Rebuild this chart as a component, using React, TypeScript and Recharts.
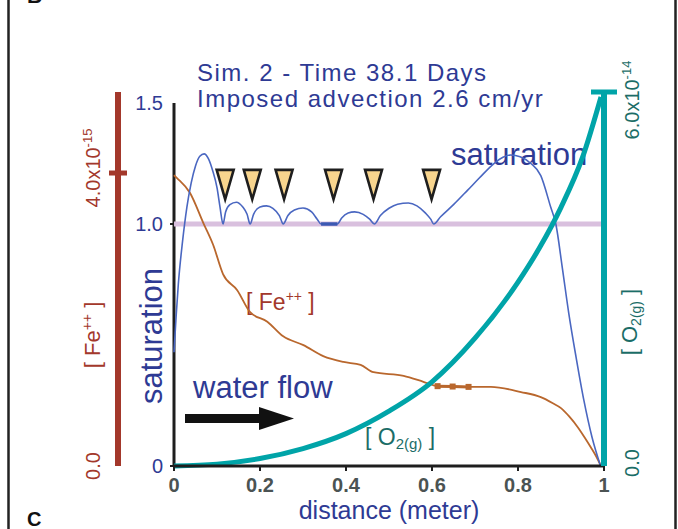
import React from 'react';
import {
  ComposedChart,
  Line,
  Scatter,
  XAxis,
  YAxis,
  ReferenceLine,
} from 'recharts';

// distance (m) vs saturation
const satX = [0, 0.005, 0.01, 0.02, 0.03, 0.04, 0.05, 0.06, 0.07, 0.08, 0.09, 0.1, 0.107, 0.114, 0.12, 0.13, 0.145, 0.16, 0.17, 0.177, 0.185, 0.2, 0.215, 0.23, 0.245, 0.254, 0.265, 0.28, 0.3, 0.32, 0.333, 0.342, 0.38, 0.39, 0.405, 0.42, 0.44, 0.455, 0.466, 0.48, 0.5, 0.52, 0.545, 0.565, 0.585, 0.597, 0.604, 0.62, 0.65, 0.683, 0.71, 0.744, 0.765, 0.783, 0.805, 0.83, 0.853, 0.876, 0.888, 0.903, 0.918, 0.935, 0.953, 0.972, 0.992];
const satY = [0.47, 0.62, 0.75, 0.93, 1.07, 1.17, 1.24, 1.28, 1.29, 1.27, 1.22, 1.15, 1.07, 1.0, 1.05, 1.08, 1.09, 1.07, 1.04, 1.0, 1.04, 1.07, 1.075, 1.065, 1.035, 1.0, 1.035, 1.058, 1.066, 1.05, 1.02, 1.0, 1.0, 1.025, 1.045, 1.05, 1.04, 1.02, 1.0, 1.035, 1.065, 1.082, 1.087, 1.075, 1.045, 1.02, 1.0, 1.03, 1.08, 1.14, 1.19, 1.25, 1.276, 1.285, 1.278, 1.25, 1.2, 1.07, 1.0, 0.82, 0.632, 0.45, 0.273, 0.12, 0.0];

// flat stretch sitting on saturation = 1
const satFlatX = [0.342, 0.38];
const satFlatY = [1.0, 1.0];

// saturation threshold
const thresholdX = [0, 1];
const thresholdY = [1.0, 1.0];

// [Fe++] in units of 1e-15
const feX = [0, 0.007, 0.037, 0.068, 0.091, 0.114, 0.147, 0.177, 0.217, 0.254, 0.301, 0.347, 0.394, 0.434, 0.464, 0.534, 0.58, 0.613, 0.65, 0.7, 0.737, 0.807, 0.853, 0.88, 0.9, 0.92, 0.939, 0.955, 0.97, 0.982, 0.993];
const feY = [3.97, 3.93, 3.73, 3.32, 3.02, 2.62, 2.4, 2.1, 1.97, 1.77, 1.65, 1.5, 1.42, 1.38, 1.28, 1.23, 1.15, 1.09, 1.085, 1.08, 1.08, 1.01, 0.94, 0.86, 0.79, 0.67, 0.53, 0.39, 0.25, 0.13, 0];

// square markers on the Fe curve
const feMarkX = [0.613, 0.648, 0.685];
const feMarkY = [1.09, 1.085, 1.08];

// [O2(g)] in units of 1e-14
const o2X = [0, 0.1, 0.2, 0.3, 0.4, 0.5, 0.6, 0.7, 0.8, 0.85, 0.9, 0.95, 0.993];
const o2Y = [0, 0.03, 0.12, 0.28, 0.52, 0.88, 1.35, 2.05, 2.95, 3.5, 4.15, 4.95, 5.92];

// triangle markers
const markerX = [0.119, 0.182, 0.256, 0.371, 0.464, 0.599];
const markerY = [1.23, 1.23, 1.23, 1.23, 1.23, 1.23];

const xTicks = [0, 0.2, 0.4, 0.6, 0.8, 1];
const satTicks = [0, 1, 1.5];
const feTicks = [0, 4];
const o2Ticks = [0, 6];

const SAT_MAX = 1.5455;
const FE_MAX = 5.106;
const O2_MAX = 6;

// axis ids; the one sorted first sits next to the plot
const SAT = 'a-sat';
const FE = 'b-fe';
const O2 = 'c-o2';

const FONT = '"Liberation Sans", Arial, Helvetica, sans-serif';
const BLUE_TEXT = '#2e3a94';
const FE_RED = '#a3382b';
const FE_LINE = '#b9672d';
const SAT_LINE = '#4a67c1';
const TEAL = '#00a4a8';
const TEAL_TEXT = '#1b6d67';
const PINK = '#d9c0de';

const toPoints = (xs: number[], ys: number[]) => xs.map((x, i) => ({ x, y: ys[i] }));

const satData = toPoints(satX, satY);
const satFlatData = toPoints(satFlatX, satFlatY);
const thresholdData = toPoints(thresholdX, thresholdY);
const feData = toPoints(feX, feY);
const feMarkData = toPoints(feMarkX, feMarkY);
const o2Data = toPoints(o2X, o2Y);
const markerData = toPoints(markerX, markerY);

const Triangle = (props: any) => {
  const { cx, cy } = props;
  return (
    <polygon
      points={`${cx - 8.5},${cy + 1.5} ${cx + 8.5},${cy + 1.5} ${cx},${cy + 31}`}
      fill="#f8d58e"
      stroke="#1e1e1e"
      strokeWidth={2.6}
    />
  );
};

const SquareDot = (props: any) => {
  const { cx, cy } = props;
  return <rect x={cx - 3} y={cy - 3} width={6} height={6} fill={FE_LINE} />;
};

// saturation ticks: small mark only below the top value
const SatTick = (props: any) => {
  const { x, y, payload } = props;
  const v = payload.value;
  return (
    <g>
      {v < 1.5 && <line x1={x + 7} x2={x + 11} y1={y} y2={y} stroke="#1e1e1e" strokeWidth={2} />}
      <text x={x} y={y} dy={7} textAnchor="end" fontSize={20} fill={BLUE_TEXT} fontFamily={FONT}>
        {v === 0 ? '0' : v.toFixed(1)}
      </text>
    </g>
  );
};

const FeTick = (props: any) => {
  const { x, y, payload } = props;
  const v = payload.value;
  return (
    <g>
      {v > 0 && <rect x={x - 9} y={y - 2.5} width={18} height={5} fill={FE_RED} />}
      <text
        transform={`translate(${x - 18},${v > 0 ? y - 5 : y}) rotate(-90)`}
        textAnchor="middle"
        fontSize={20}
        fill={FE_RED}
        fontFamily={FONT}
      >
        {v === 0 ? '0.0' : (
          <>
            {v.toFixed(1)}x10<tspan dy={-8} fontSize={13}>-15</tspan>
          </>
        )}
      </text>
    </g>
  );
};

const O2Tick = (props: any) => {
  const { x, y, payload } = props;
  const v = payload.value;
  return (
    <g>
      {v > 0 && <rect x={x - 13} y={y - 2.5} width={26} height={5} fill={TEAL} />}
      <text
        transform={`translate(${x + 35},${v > 0 ? y + 8 : y - 3}) rotate(-90)`}
        textAnchor="middle"
        fontSize={20}
        fill={TEAL_TEXT}
        fontFamily={FONT}
      >
        {v === 0 ? '0.0' : (
          <>
            {v.toFixed(1)}x10<tspan dy={-8} fontSize={13}>-14</tspan>
          </>
        )}
      </text>
    </g>
  );
};

const Annotations = () => (
  <svg width={678} height={529} style={{ position: 'absolute', left: 0, top: 0 }} fontFamily={FONT}>
    {/* panel frame */}
    <line x1={8.5} y1={0} x2={8.5} y2={529} stroke="#222" strokeWidth={2.5} />
    <line x1={675.5} y1={0} x2={675.5} y2={529} stroke="#222" strokeWidth={2.5} />
    <text x={27} y={3} fontSize={21} fontWeight="bold" fill="#111">B</text>
    <text x={27} y={526} fontSize={20} fontWeight="bold" fill="#111">C</text>

    <text x={197} y={81} fontSize={24} letterSpacing={1.5} fill={BLUE_TEXT}>Sim. 2 - Time 38.1 Days</text>
    <text x={197} y={107} fontSize={24} letterSpacing={1.5} fill={BLUE_TEXT}>Imposed advection 2.6 cm/yr</text>

    <text x={451} y={165} fontSize={31} fill={BLUE_TEXT}>saturation</text>
    <text transform="translate(162,336) rotate(-90)" textAnchor="middle" fontSize={31} fill={BLUE_TEXT}>saturation</text>

    <text x={193} y={398} fontSize={31} fill={BLUE_TEXT}>water flow</text>
    <rect x={185} y={414} width={76} height={9} fill="#111" />
    <polygon points="259,407 294,418.5 259,430" fill="#111" />

    <text x={246} y={310} fontSize={23} fill={FE_RED}>
      [ Fe<tspan dy={-9} fontSize={14}>++</tspan><tspan dy={9} fontSize={23}> ]</tspan>
    </text>
    <text transform="translate(100,335) rotate(-90)" textAnchor="middle" fontSize={22} fill={FE_RED}>
      [ Fe<tspan dy={-8} fontSize={14}>++</tspan><tspan dy={8} fontSize={22}> ]</tspan>
    </text>

    <text x={365} y={445} fontSize={23} fill={TEAL_TEXT}>
      [ O<tspan dy={4} fontSize={15}>2(g)</tspan><tspan dy={-4} fontSize={23}> ]</tspan>
    </text>
    <text transform="translate(637,322) rotate(-90)" textAnchor="middle" fontSize={22} fill={TEAL_TEXT}>
      [ O<tspan dy={4} fontSize={14}>2(g)</tspan><tspan dy={-4} fontSize={22}> ]</tspan>
    </text>
  </svg>
);

export default function App() {
  return (
    <div style={{ position: 'absolute', left: 0, top: 0, width: 678, height: 529, fontFamily: FONT, background: '#fff' }}>
      <Annotations />
      <div style={{ position: 'absolute', left: 0, top: 0 }}>
        <ComposedChart width={678} height={529} margin={{ top: 92, right: 14, bottom: 0, left: 78 }}>
          <XAxis
            type="number"
            dataKey="x"
            domain={[0, 1]}
            ticks={xTicks}
            interval={0}
            tickFormatter={(v) => (v === 0 || v === 1 ? String(v) : v.toFixed(1))}
            height={63}
            stroke="#1e1e1e"
            axisLine={{ stroke: '#1e1e1e', strokeWidth: 3 }}
            tickLine={{ stroke: '#1e1e1e', strokeWidth: 2 }}
            tickSize={5}
            tickMargin={7}
            tick={{ fill: '#4b5353', fontSize: 20, fontWeight: 'bold', fontFamily: FONT }}
            label={{ value: 'distance (meter)', position: 'insideBottom', offset: 10, fill: BLUE_TEXT, fontSize: 25, fontFamily: FONT }}
          />
          <YAxis
            yAxisId={SAT}
            orientation="left"
            type="number"
            dataKey="y"
            width={56}
            domain={[0, SAT_MAX]}
            ticks={satTicks}
            interval={0}
            axisLine={false}
            tickLine={false}
            tickSize={4}
            tickMargin={7}
            tick={SatTick}
          />
          <YAxis
            yAxisId={FE}
            orientation="left"
            type="number"
            width={40}
            domain={[0, FE_MAX]}
            ticks={feTicks}
            interval={0}
            axisLine={{ stroke: FE_RED, strokeWidth: 6 }}
            tickLine={false}
            tickSize={0}
            tickMargin={0}
            tick={FeTick}
          />
          <YAxis
            yAxisId={O2}
            orientation="right"
            type="number"
            width={60}
            domain={[0, O2_MAX]}
            ticks={o2Ticks}
            interval={0}
            axisLine={{ stroke: TEAL, strokeWidth: 6 }}
            tickLine={false}
            tickSize={0}
            tickMargin={0}
            tick={O2Tick}
          />

          <ReferenceLine
            yAxisId={SAT}
            segment={[{ x: 0, y: 0 }, { x: 0, y: 1.5 }]}
            stroke="#1e1e1e"
            strokeWidth={3}
            ifOverflow="visible"
          />

          <Line yAxisId={SAT} data={thresholdData} dataKey="y" type="linear" stroke={PINK} strokeWidth={5} dot={false} activeDot={false} isAnimationActive={false} />
          <Line yAxisId={FE} data={feData} dataKey="y" type="monotone" stroke={FE_LINE} strokeWidth={1.8} dot={false} activeDot={false} isAnimationActive={false} />
          <Line yAxisId={FE} data={feMarkData} dataKey="y" type="linear" stroke={FE_LINE} strokeWidth={3} dot={SquareDot} activeDot={false} isAnimationActive={false} />
          <Line yAxisId={SAT} data={satData} dataKey="y" type="monotone" stroke={SAT_LINE} strokeWidth={1.6} dot={false} activeDot={false} isAnimationActive={false} />
          <Line yAxisId={SAT} data={satFlatData} dataKey="y" type="linear" stroke="#3c58b2" strokeWidth={3.5} dot={false} activeDot={false} isAnimationActive={false} />
          <Line yAxisId={O2} data={o2Data} dataKey="y" type="monotone" stroke={TEAL} strokeWidth={5} dot={false} activeDot={false} isAnimationActive={false} />
          <Scatter yAxisId={SAT} data={markerData} shape={Triangle} isAnimationActive={false} />
        </ComposedChart>
      </div>
    </div>
  );
}
